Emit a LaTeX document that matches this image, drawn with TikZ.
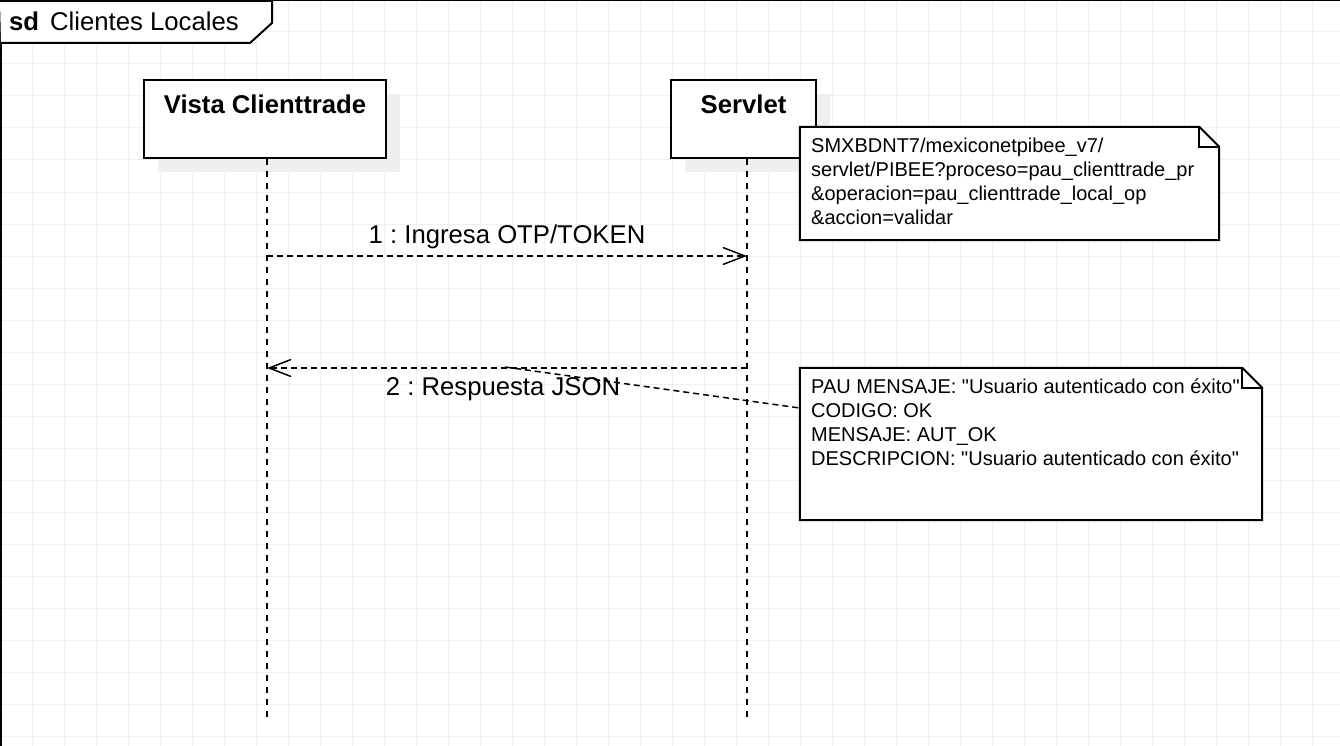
\documentclass[tikz,border=0pt]{standalone}
\usepackage{fontspec}
\setmainfont{Liberation Sans}
\newfontfamily\notefont{Liberation Sans}
\usetikzlibrary{arrows.meta,calc}
\definecolor{gridc}{HTML}{F0F0F0}
\definecolor{shadowc}{HTML}{EFEFEF}
\tikzset{
  gridline/.style={draw=gridc, line width=1pt},
  lifebox/.style={draw=black, fill=white, line width=2pt, rectangle, inner sep=0pt},
  boxshadow/.style={fill=shadowc, draw=none},
  headtext/.style={font=\fontsize{25.7}{30}\selectfont\bfseries, inner sep=0pt},
  lifeline/.style={draw=black, line width=2pt, dash pattern=on 6pt off 6pt},
  msgline/.style={draw=black, line width=1.5pt, dash pattern=on 6pt off 4pt, -{Straight Barb[length=22pt, width=17pt, line width=1.5pt]}},
  msgtext/.style={font=\fontsize{25.7}{30}\selectfont, inner sep=0pt},
  notebody/.style={draw=none, rectangle, inner sep=0pt},
  noteline/.style={draw=black, line width=2pt, line join=miter},
  notetext/.style={font=\notefont\fontsize{20}{24}\selectfont, align=left, inner sep=0pt, anchor=north west},
  anchorline/.style={draw=black, line width=1.5pt, dash pattern=on 6pt off 4pt},
}
\frenchspacing
\begin{document}
\begin{tikzpicture}[x=1pt, y=-1pt]
\useasboundingbox (0,0) rectangle (1340,746);
\fill[white] (0,0) rectangle (1340,746);
% grid
\foreach \i in {1,...,41} { \draw[gridline] (\i*32,0) -- (\i*32,746); }
\foreach \j in {1,...,23} { \draw[gridline] (0,\j*32) -- (1340,\j*32); }
% frame
\draw[line width=2pt] (1,0) -- (1,746);
\draw[line width=1.5pt] (0,0.75) -- (1340,0.75);
\draw[line width=2pt, fill=white] (0,1) -- (272,1) -- (272,23) -- (250,43) -- (1,43);
\node[anchor=west, inner sep=0pt, font=\fontsize{25.7}{30}\selectfont] (title) at (9,21) {\textbf{sd}\hspace{11pt}Clientes Locales};
% shadows
\fill[boxshadow] (158,94) rectangle (400,172);
\fill[boxshadow] (685,94) rectangle (830,172);
% lifeline boxes
\node[lifebox, minimum width=242pt, minimum height=78pt] (vc) at (265,119) {};
\node[headtext] (vct) at (265,104) {Vista Clienttrade};
\node[lifebox, minimum width=145pt, minimum height=78pt] (sv) at (743.5,119) {};
\node[headtext] (svt) at (743.5,104) {Servlet};
% lifelines
\coordinate (vctop) at (267,159);
\coordinate (vcbot) at (267,718);
\coordinate (svtop) at (747,159);
\coordinate (svbot) at (747,718);
\draw[lifeline] (vctop) -- (vcbot);
\draw[lifeline] (svtop) -- (svbot);
% message 1
\coordinate (m1a) at (267,256);
\coordinate (m1b) at (747,256);
\draw[msgline] (m1a) -- (m1b);
\node[msgtext] (m1t) at (507,237) {1 : Ingresa OTP/TOKEN};
% message 2
\coordinate (m2a) at (747,368);
\coordinate (m2b) at (267,368);
\coordinate (m2mid) at (505,367);
\draw[msgline] (m2a) -- (m2b);
\node[msgtext] (m2t) at (503,389) {2 : Respuesta JSON};
% note 1
\node[notebody, minimum width=419pt, minimum height=113pt] (n1) at (1009.5,183.5) {};
\draw[noteline, fill=white] (n1.north west) -- ([xshift=-20pt]n1.north east) -- ([yshift=-20pt]n1.north east) -- (n1.south east) -- (n1.south west) -- cycle;
\draw[noteline] ([xshift=-20pt]n1.north east) -- ([xshift=-20pt,yshift=-20pt]n1.north east) -- ([yshift=-20pt]n1.north east);
\node[notetext] (n1t) at (811,138) {SMXBDNT7/mexiconetpibee\_v7/\\servlet/PIBEE?proceso=pau\_clienttrade\_pr\\\&operacion=pau\_clienttrade\_local\_op\\\&accion=validar};
% note 2
\node[notebody, minimum width=462pt, minimum height=152pt] (n2) at (1031,444) {};
\draw[anchorline] (m2mid) -- ([yshift=36pt]n2.west);
\draw[noteline, fill=white] (n2.north west) -- ([xshift=-20pt]n2.north east) -- ([yshift=-20pt]n2.north east) -- (n2.south east) -- (n2.south west) -- cycle;
\draw[noteline] ([xshift=-20pt]n2.north east) -- ([xshift=-20pt,yshift=-20pt]n2.north east) -- ([yshift=-20pt]n2.north east);
\node[notetext] (n2t) at (811,379) {PAU MENSAJE: "Usuario autenticado con éxito"\\CODIGO: OK\\MENSAJE: AUT\_OK\\DESCRIPCION: "Usuario autenticado con éxito"};
\end{tikzpicture}
\end{document}
